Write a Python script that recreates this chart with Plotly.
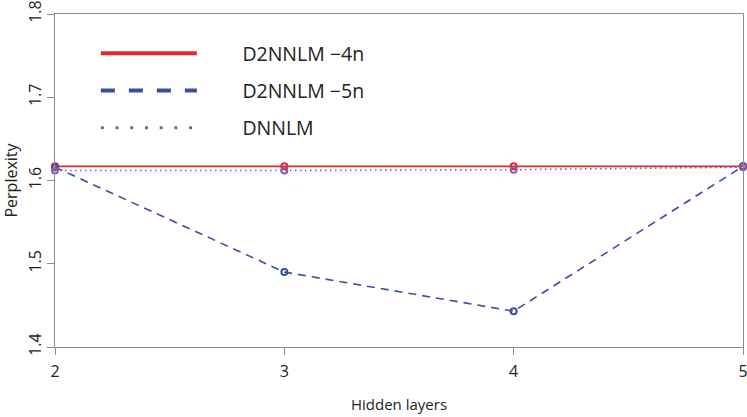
import plotly.graph_objects as go

# data
hidden_layers = [2, 3, 4, 5]
d2nnlm_4n = [1.617, 1.617, 1.617, 1.617]
d2nnlm_5n = [1.616, 1.490, 1.443, 1.617]
dnnlm = [1.612, 1.612, 1.613, 1.616]

series_names = ["D2NNLM \u22124n", "D2NNLM \u22125n", "DNNLM"]

RED = "#e4282d"
BLUE = "#3a4f9e"
PURPLE = "#8a5aa8"
FONT = "Open Sans"

fig = go.Figure()

series = [
    (d2nnlm_4n, RED, "solid"),
    (d2nnlm_5n, BLUE, "8px,6px"),
    (dnnlm, PURPLE, "1.5px,3.5px"),
]

# actual data lines (legend drawn separately with thicker samples)
for ys, color, dash in series:
    fig.add_trace(go.Scatter(
        x=hidden_layers, y=ys, mode="lines+markers",
        line=dict(color=color, width=1.6, dash=dash),
        marker=dict(symbol="circle-open", size=6, color=color,
                    line=dict(width=2, color=color)),
        cliponaxis=False, showlegend=False,
    ))

# legend-only traces with heavier strokes, like the reference key
legend_dash = ["solid", "14px,14px", "3px,11.7px"]
pad = "\u00a0" * 8
for (ys, color, _), dash, name in zip(series, legend_dash, series_names):
    fig.add_trace(go.Scatter(
        x=[None], y=[None], mode="lines", name=pad + name,
        line=dict(color=color, width=4 if dash != "3px,11.7px" else 3,
                  dash=dash),
        legendgroup=name,
    ))

axis_common = dict(
    showline=True, mirror=True, linecolor="#8c8c8c", linewidth=1,
    ticks="outside", ticklen=7, tickcolor="#8c8c8c", showgrid=False,
    zeroline=False, automargin=False, ticklabeloverflow="allow",
    tickfont=dict(family=FONT, size=16, color="#222"),
)

fig.update_xaxes(range=[2, 5], tickvals=hidden_layers, ticklabelstandoff=3,
                 title=dict(text="Hidden layers",
                            font=dict(family=FONT, size=15, color="#222"),
                            standoff=18),
                 **axis_common)
fig.update_yaxes(range=[1.4, 1.8], dtick=0.1, tick0=1.4, tickformat=".1f",
                 tickangle=-90,
                 title=dict(text="Perplexity",
                            font=dict(family=FONT, size=16, color="#222"),
                            standoff=18),
                 **axis_common)

fig.update_layout(
    width=747, height=417,
    margin=dict(l=55, r=4, t=14, b=70, autoexpand=False),
    plot_bgcolor="white", paper_bgcolor="white",
    legend=dict(x=0.0594, y=0.94, xanchor="left", yanchor="top",
                bgcolor="rgba(0,0,0,0)", itemwidth=96, tracegroupgap=9,
                font=dict(family=FONT, size=19.5, color="#222")),
)

# drop the default 8px body margin so the figure sits at the page corner
fig.write_html("out.html", config={"displayModeBar": False},
               post_script="document.body.style.margin='0';")
